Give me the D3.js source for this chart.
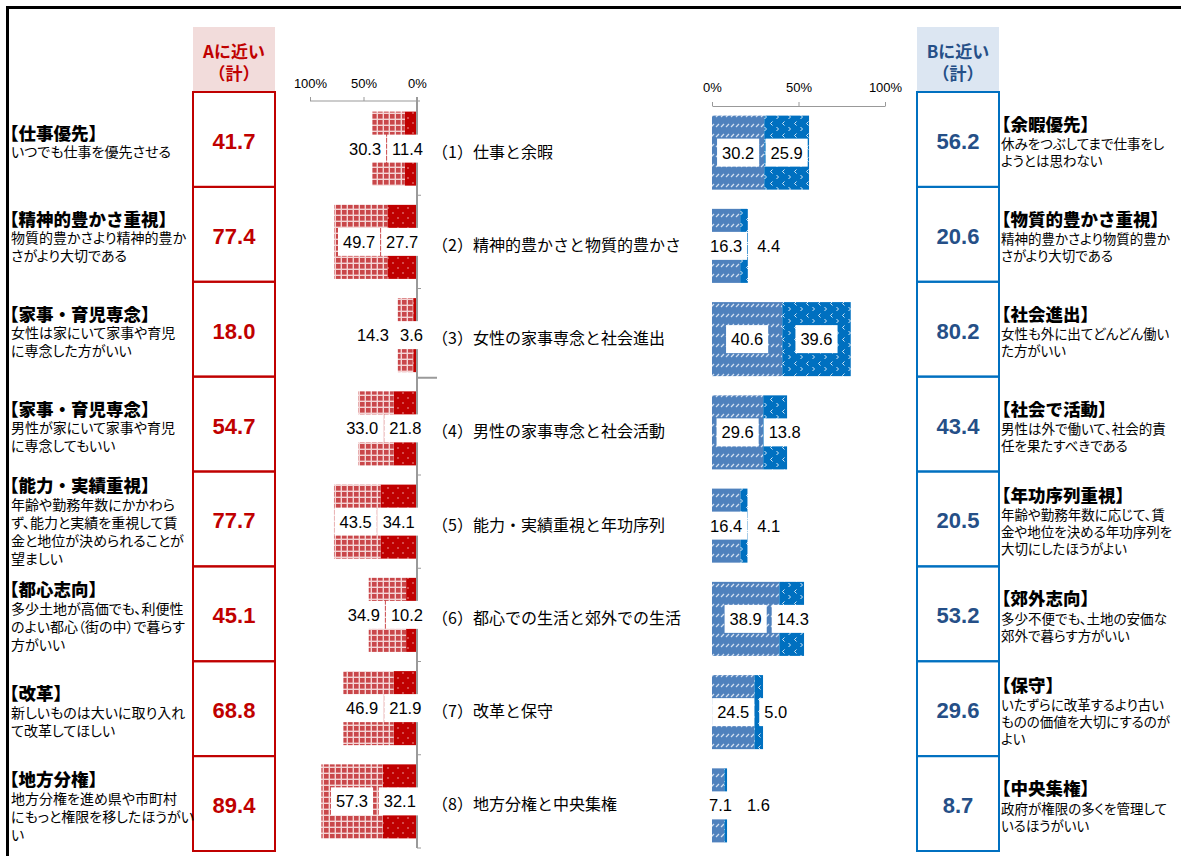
<!DOCTYPE html>
<html><head><meta charset="utf-8">
<script src="https://cdn.jsdelivr.net/npm/d3@7"></script>
<style>
body{margin:0;background:#fff}
svg{display:block}
.jp{font-family:'Noto Sans CJK JP','Noto Sans',sans-serif}
.palt{font-feature-settings:"palt"}
.num{font-family:'Liberation Sans',Arial,sans-serif}
.tick text{font-family:'Liberation Sans',Arial,sans-serif;font-size:13px;fill:#000}
</style>
</head><body>
<svg id="c" width="1181" height="856"></svg>
<script>
// 8 paired questions: share answering "A" (left, red) vs "B" (right, blue)
const categories = [
  "（1）仕事と余暇",
  "（2）精神的豊かさと物質的豊かさ",
  "（3）女性の家事専念と社会進出",
  "（4）男性の家事専念と社会活動",
  "（5）能力・実績重視と年功序列",
  "（6）都心での生活と郊外での生活",
  "（7）改革と保守",
  "（8）地方分権と中央集権"
];
const aStrong   = [11.4, 27.7, 3.6, 21.8, 34.1, 10.2, 21.9, 32.1];
const aSomewhat = [30.3, 49.7, 14.3, 33.0, 43.5, 34.9, 46.9, 57.3];
const bSomewhat = [30.2, 16.3, 40.6, 29.6, 16.4, 38.9, 24.5, 7.1];
const bStrong   = [25.9, 4.4, 39.6, 13.8, 4.1, 14.3, 5.0, 1.6];
const aTotals   = [41.7, 77.4, 18.0, 54.7, 77.7, 45.1, 68.8, 89.4];
const bTotals   = [56.2, 20.6, 80.2, 43.4, 20.5, 53.2, 29.6, 8.7];
const tickValues = [0, 50, 100];
const headerA = ["Aに近い", "（計）"];
const headerB = ["Bに近い", "（計）"];
const aTitles = ["【仕事優先】","【精神的豊かさ重視】","【家事・育児専念】","【家事・育児専念】","【能力・実績重視】","【都心志向】","【改革】","【地方分権】"];
const aDescs = [
  ["いつでも仕事を優先させる"],
  ["物質的豊かさより精神的豊か","さがより大切である"],
  ["女性は家にいて家事や育児","に専念した方がいい"],
  ["男性が家にいて家事や育児","に専念してもいい"],
  ["年齢や勤務年数にかかわら","ず、能力と実績を重視して賃","金と地位が決められることが","望ましい"],
  ["多少土地が高価でも、利便性","のよい都心（街の中）で暮らす","方がいい"],
  ["新しいものは大いに取り入れ","て改革してほしい"],
  ["地方分権を進め県や市町村","にもっと権限を移したほうがい","い"]
];
const bTitles = ["【余暇優先】","【物質的豊かさ重視】","【社会進出】","【社会で活動】","【年功序列重視】","【郊外志向】","【保守】","【中央集権】"];
const bDescs = [
  ["休みをつぶしてまで仕事をし","ようとは思わない"],
  ["精神的豊かさより物質的豊か","さがより大切である"],
  ["女性も外に出てどんどん働い","た方がいい"],
  ["男性は外で働いて、社会的責","任を果たすべきである"],
  ["年齢や勤務年数に応じて、賃","金や地位を決める年功序列を","大切にしたほうがよい"],
  ["多少不便でも、土地の安価な","郊外で暮らす方がいい"],
  ["いたずらに改革するより古い","ものの価値を大切にするのが","よい"],
  ["政府が権限の多くを管理して","いるほうがいい"]
];

const svg = d3.select("#c");
const idx = d3.range(categories.length);

// ---- patterns ----
const defs = svg.append("defs");
const pA1 = defs.append("pattern").attr("id","pAsome").attr("patternUnits","userSpaceOnUse").attr("width",6).attr("height",6);
pA1.append("rect").attr("width",6).attr("height",6).attr("fill","#F4D4D4");
pA1.append("rect").attr("width",4.6).attr("height",4.6).attr("fill","#C9474A");
const pA2 = defs.append("pattern").attr("id","pAstrong").attr("patternUnits","userSpaceOnUse").attr("width",10).attr("height",10);
pA2.append("rect").attr("width",10).attr("height",10).attr("fill","#C00000");
pA2.append("circle").attr("cx",3).attr("cy",3).attr("r",0.8).attr("fill","#EBA8A8");
pA2.append("circle").attr("cx",8).attr("cy",8).attr("r",0.8).attr("fill","#EBA8A8");
const pB1 = defs.append("pattern").attr("id","pBsome").attr("patternUnits","userSpaceOnUse").attr("width",5).attr("height",10);
pB1.append("rect").attr("width",5).attr("height",10).attr("fill","#4F81BD");
pB1.append("line").attr("x1",1).attr("y1",7).attr("x2",4).attr("y2",4).attr("stroke","#D2DFF0").attr("stroke-width",1.2);
const pB2 = defs.append("pattern").attr("id","pBstrong").attr("patternUnits","userSpaceOnUse").attr("width",12).attr("height",12);
pB2.append("rect").attr("width",12).attr("height",12).attr("fill","#0070C0");
pB2.append("path").attr("d","M4.5,1.5 L2.5,3.5 L4.5,5.5").attr("fill","none").attr("stroke","#D8E8F6").attr("stroke-width",1);
pB2.append("path").attr("d","M8.5,7 L10.5,9 L8.5,11").attr("fill","none").attr("stroke","#D8E8F6").attr("stroke-width",1);

// ---- frame ----
svg.append("line").attr("x1",6).attr("x2",1181).attr("y1",7.5).attr("y2",7.5).attr("stroke","#000").attr("stroke-width",3);
svg.append("line").attr("x1",7.5).attr("x2",7.5).attr("y1",6).attr("y2",856).attr("stroke","#000").attr("stroke-width",3);

// ---- scales ----
const xL = d3.scaleLinear().domain([0,100]).range([417,310]);
const xR = d3.scaleLinear().domain([0,100]).range([712,885]);
const yL = d3.scaleBand().domain(idx).range([102,848]).paddingInner(0.206).paddingOuter(0.103);
const yR = d3.scaleBand().domain(idx).range([106,852]).paddingInner(0.206).paddingOuter(0.103);
const yRow = d3.scaleBand().domain(idx).range([92,851]);

// ---- total boxes ----
function totalColumn(x0, header, fillHead, stroke, txtColor, vals){
  const g = svg.append("g");
  g.append("rect").attr("x",x0).attr("y",27).attr("width",82).attr("height",65).attr("fill",fillHead);
  header.forEach((t,k)=>g.append("text").attr("class","jp").attr("x",x0+41).attr("y",50+k*22)
    .attr("text-anchor","middle").attr("dominant-baseline","central")
    .attr("font-size",17).attr("font-weight",700).attr("fill",txtColor).text(t));
  g.selectAll("rect.box").data(idx).join("rect").attr("class","box")
    .attr("x",x0).attr("y",i=>yRow(i)).attr("width",82).attr("height",yRow.bandwidth())
    .attr("fill","none").attr("stroke",stroke).attr("stroke-width",2);
  g.selectAll("text.val").data(idx).join("text").attr("class","val")
    .attr("x",x0+41).attr("y",i=>yRow(i)+yRow.bandwidth()/2+2)
    .attr("text-anchor","middle").attr("dominant-baseline","central")
    .attr("font-family","'Liberation Sans',Arial,sans-serif").attr("font-weight",700)
    .attr("font-size",22).attr("fill",txtColor).text(i=>vals[i].toFixed(1));
}
totalColumn(193, headerA, "#F2DCDB", "#C00000", "#C00000", aTotals);
totalColumn(917, headerB, "#DCE6F2", "#0070C0", "#254F87", bTotals);

// ---- side texts ----
function sideText(xTitle, xDesc, titles, descs, tSize, dSize, gap1, gap2){
  idx.forEach(i=>{
    const n = descs[i].length;
    const h = gap1 + (n-1)*gap2;
    const c = yRow(i)+yRow.bandwidth()/2+2.5;
    const top = c - h/2;
    svg.append("text").attr("class","jp").attr("x",xTitle).attr("y",top)
      .attr("dominant-baseline","central").attr("font-size",tSize).attr("font-weight",900)
      .attr("fill","#000").text(titles[i]);
    descs[i].forEach((t,k)=>svg.append("text").attr("class","jp palt").attr("x",xDesc)
      .attr("y",top+gap1+k*gap2).attr("dominant-baseline","central")
      .attr("font-size",dSize).attr("fill","#000").text(t));
  });
}
sideText(1, 11, aTitles, aDescs, 17.5, 14, 19, 18);
sideText(993, 1001, bTitles, bDescs, 17.5, 13.5, 20, 17);

// ---- axes ----
const axL = svg.append("g").attr("class","tick").attr("transform","translate(0,101)")
  .call(d3.axisTop(xL).tickValues(tickValues).tickSize(4).tickSizeOuter(0).tickPadding(9).tickFormat(d=>d+"%"));
const axR = svg.append("g").attr("class","tick").attr("transform","translate(0,106)")
  .call(d3.axisTop(xR).tickValues(tickValues).tickSize(4).tickSizeOuter(0).tickPadding(10).tickFormat(d=>d+"%"));
[axL, axR].forEach(a=>{
  a.selectAll("path.domain").attr("stroke","#999");
  a.selectAll(".tick line").attr("stroke","#999");
});
axL.select("path.domain").attr("d","M310,0H420");

// ---- bars ----
function bars(xs, yS, inner, outer, pInner, pOuter){
  const g = svg.append("g");
  g.selectAll("rect.in").data(idx).join("rect")
    .attr("x",i=>Math.min(xs(0),xs(inner[i]))).attr("y",i=>yS(i))
    .attr("width",i=>Math.abs(xs(inner[i])-xs(0))).attr("height",yS.bandwidth())
    .attr("fill",`url(#${pInner})`);
  g.selectAll("rect.out").data(idx).join("rect")
    .attr("x",i=>Math.min(xs(inner[i]),xs(inner[i]+outer[i]))).attr("y",i=>yS(i))
    .attr("width",i=>Math.abs(xs(inner[i]+outer[i])-xs(inner[i]))).attr("height",yS.bandwidth())
    .attr("fill",`url(#${pOuter})`);
}
bars(xL, yL, aStrong, aSomewhat, "pAstrong", "pAsome");
bars(xR, yR, bSomewhat, bStrong, "pBsome", "pBstrong");

// zero line with category ticks on the left chart
const gz = svg.append("g").attr("stroke","#9A9A9A");
gz.append("line").attr("x1",417).attr("x2",417).attr("y1",97).attr("y2",848).attr("stroke-width",2);
gz.selectAll("line.ct").data(d3.range(1,9)).join("line").attr("class","ct")
  .attr("x1",417).attr("x2",k=>k===3?437:421)
  .attr("y1",k=>yL.range()[0]+k*yL.step()-(k===3?4:0)).attr("y2",k=>yL.range()[0]+k*yL.step()-(k===3?4:0))
  .attr("stroke-width",k=>k===3?2:1);

// ---- value labels with white boxes, pushed apart when they collide ----
function addLabel(cy, v){
  const g = svg.append("g");
  const t = g.append("text").attr("class","num").attr("x",0).attr("y",cy)
    .attr("text-anchor","middle").attr("dominant-baseline","central")
    .attr("font-size",16.5).attr("fill","#000").text(v.toFixed(1));
  return {g, t, w: t.node().getComputedTextLength()+10};
}
function placeBox(l, cx, cy){
  l.t.attr("x",cx);
  l.g.insert("rect","text").attr("x",cx-l.w/2).attr("y",cy-14).attr("width",l.w).attr("height",28).attr("fill","#fff");
}
idx.forEach(i=>{
  // left pair
  let cy = yL(i)+yL.bandwidth()/2;
  const a = addLabel(cy, aStrong[i]);
  let cx = (xL(0)+xL(aStrong[i]))/2;
  if (cx + a.w/2 > 428) cx = 428 - a.w/2;
  placeBox(a, cx, cy);
  const leftEdge = cx - a.w/2;
  const b = addLabel(cy, aSomewhat[i]);
  let cx2 = (xL(aStrong[i])+xL(aStrong[i]+aSomewhat[i]))/2;
  if (cx2 + b.w/2 > leftEdge - 1) cx2 = leftEdge - 1 - b.w/2;
  placeBox(b, cx2, cy);
  // right pair
  cy = yR(i)+yR.bandwidth()/2;
  const c = addLabel(cy, bSomewhat[i]);
  cx = (xR(0)+xR(bSomewhat[i]))/2;
  if (cx - c.w/2 < 704) cx = 704 + c.w/2;
  placeBox(c, cx, cy);
  const rightEdge = cx + c.w/2;
  const d = addLabel(cy, bStrong[i]);
  cx2 = (xR(bSomewhat[i])+xR(bSomewhat[i]+bStrong[i]))/2;
  if (cx2 - d.w/2 < rightEdge + 5) cx2 = rightEdge + 5 + d.w/2;
  placeBox(d, cx2, cy);
});

// ---- category names ----
svg.selectAll("text.cat").data(idx).join("text").attr("class","jp cat")
  .attr("x",432).attr("y",i=>yL(i)+yL.bandwidth()/2+2)
  .attr("dominant-baseline","central").attr("font-size",16).attr("fill","#000")
  .text(i=>categories[i]);
</script>
</body></html>
